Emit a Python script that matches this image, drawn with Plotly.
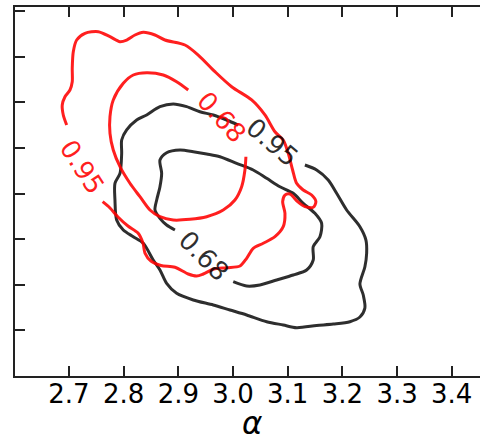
import plotly.graph_objects as go

# 95% / 68% credible contours for two samples, traced as (alpha, y) paths.
# Each open path leaves a gap where its inline level label sits.

red95_x = [2.6958, 2.6896, 2.6877, 2.6927, 2.7018, 2.7060, 2.7060, 2.7079, 2.7141, 2.7293,
           2.7536, 2.7750, 2.7933, 2.8055, 2.8207, 2.8359, 2.8573, 2.8755, 2.9121, 2.9364,
           2.9670, 2.9975, 3.0341, 3.0584, 3.0767, 3.0918, 3.1010, 3.1090, 3.1163, 3.1284,
           3.1438, 3.1516, 3.1467, 3.1315, 3.1182, 3.1041, 3.0950, 3.0908, 3.0950, 3.0918,
           3.0767, 3.0553, 3.0370, 3.0249, 3.0127, 2.9884, 2.9639, 2.9456, 2.9335, 2.9181,
           2.8938, 2.8682, 2.8499, 2.8390, 2.8353, 2.8262, 2.8079, 2.7896, 2.7750, 2.7616]
red95_y = [5.504, 5.724, 5.943, 6.125, 6.272, 6.454, 6.748, 7.112, 7.368, 7.515,
           7.550, 7.441, 7.331, 7.368, 7.478, 7.537, 7.478, 7.368, 7.259, 7.039,
           6.673, 6.344, 6.053, 5.724, 5.357, 5.175, 4.884, 4.518, 4.226, 4.079,
           3.969, 3.822, 3.700, 3.713, 3.822, 3.991, 3.969, 3.822, 3.568, 3.274,
           3.055, 2.910, 2.800, 2.581, 2.412, 2.375, 2.340, 2.237, 2.193, 2.237,
           2.384, 2.423, 2.522, 2.697, 2.917, 3.136, 3.289, 3.487, 3.684, 3.822]

red68_x = [2.9181, 2.8969, 2.8724, 2.8421, 2.8176, 2.7993, 2.7810, 2.7750, 2.7750, 2.7810,
           2.7933, 2.8115, 2.8298, 2.8481, 2.8664, 2.8907, 2.9212, 2.9518, 2.9821, 3.0035,
           3.0158, 3.0218, 3.0236]
red68_y = [6.272, 6.454, 6.601, 6.651, 6.601, 6.419, 6.053, 5.686, 5.322, 4.956,
           4.590, 4.226, 3.932, 3.640, 3.493, 3.421, 3.436, 3.493, 3.640, 3.860,
           4.151, 4.518, 4.809]

black95_x = [3.1315, 3.1529, 3.1741, 3.1895, 3.2078, 3.2321, 3.2431, 3.2444, 3.2412, 3.2321,
             3.2382, 3.2412, 3.2321, 3.2138, 3.1833, 3.1529, 3.1163, 3.0918, 3.0615, 3.0249,
             2.9944, 2.9639, 2.9273, 2.8969, 2.8786, 2.8664, 2.8541, 2.8359, 2.8176, 2.7993,
             2.7872, 2.7841, 2.7841, 2.7933, 2.7964, 2.7964, 2.8055, 2.8238, 2.8421, 2.8664,
             2.8907, 2.9152, 2.9395, 2.9639, 2.9884, 3.0096]
black95_y = [4.627, 4.518, 4.298, 4.007, 3.640, 3.274, 2.982, 2.691, 2.397, 2.018,
             1.776, 1.491, 1.294, 1.191, 1.140, 1.107, 1.059, 1.118, 1.191, 1.338,
             1.447, 1.557, 1.667, 1.814, 2.033, 2.325, 2.544, 2.910, 3.055, 3.202,
             3.421, 3.860, 4.226, 4.445, 4.884, 5.175, 5.395, 5.614, 5.724, 5.906,
             5.965, 5.906, 5.796, 5.724, 5.614, 5.504]

black68_x = [3.0004, 3.0249, 3.0492, 3.0798, 3.1101, 3.1346, 3.1467, 3.1467, 3.1590, 3.1621,
             3.1498, 3.1284, 3.1101, 3.0858, 3.0615, 3.0370, 3.0066, 2.9761, 2.9518, 2.9273,
             2.9030, 2.8786, 2.8664, 2.8695, 2.8664, 2.8604, 2.8573, 2.8664, 2.8786, 2.8938]
black68_y = [2.068, 1.974, 1.996, 2.105, 2.215, 2.325, 2.544, 2.836, 3.055, 3.349,
             3.568, 3.787, 4.007, 4.151, 4.336, 4.518, 4.664, 4.809, 4.868, 4.919,
             4.956, 4.897, 4.737, 4.445, 4.151, 3.860, 3.640, 3.458, 3.311, 3.202]

# Inline level labels: text, position, rotation (deg, clockwise), colour group
label_text = ["0.95", "0.68", "0.95", "0.68"]
label_x = [2.7238, 2.9792, 3.0706, 2.9472]
label_y = [4.583, 5.686, 5.121, 2.636]
label_angle = [57, 48, 40, 45]
label_group = ["red", "red", "black", "black"]

x_ticks = [2.7, 2.8, 2.9, 3.0, 3.1, 3.2, 3.3, 3.4]
y_ticks = [0, 1, 2, 3, 4, 5, 6, 7, 8]

RED = "rgba(255,0,0,0.88)"
BLACK = "rgba(0,0,0,0.82)"
colours = {"red": RED, "black": BLACK}

fig = go.Figure()
for xs, ys, col in [(black95_x, black95_y, BLACK), (black68_x, black68_y, BLACK),
                    (red95_x, red95_y, RED), (red68_x, red68_y, RED)]:
    fig.add_trace(go.Scatter(x=xs, y=ys, mode="lines",
                             line=dict(color=col, width=3, shape="spline", smoothing=0.8),
                             hoverinfo="skip", showlegend=False))

for t, lx, ly, ang, grp in zip(label_text, label_x, label_y, label_angle, label_group):
    fig.add_annotation(x=lx, y=ly, text=t, textangle=ang, showarrow=False,
                       xanchor="center", yanchor="middle",
                       font=dict(family="DejaVu Sans", size=26, color=colours[grp]))

fig.add_annotation(xref="paper", yref="paper", x=0.51, y=-0.128, text="<i>α</i>",
                   showarrow=False, xanchor="center", yanchor="middle",
                   font=dict(family="DejaVu Sans", size=31, color="black"))

fig.update_xaxes(range=[2.6013, 3.4517], tickvals=x_ticks, ticktext=[f"{v:.1f}" for v in x_ticks],
                 ticks="inside", ticklen=10, tickwidth=1.5, tickcolor="#222",
                 ticklabelstandoff=-6,
                 showline=True, linecolor="#222", linewidth=1.6, mirror="ticks",
                 showgrid=False, zeroline=False,
                 tickfont=dict(family="DejaVu Sans", size=26, color="black"))
fig.update_yaxes(range=[0, 8.092], tickvals=y_ticks, showticklabels=False,
                 ticks="inside", ticklen=10, tickwidth=1.5, tickcolor="#222",
                 showline=True, linecolor="#222", linewidth=1.6,
                 showgrid=False, zeroline=False)

fig.update_layout(width=480, height=443, margin=dict(l=15, r=0, t=7, b=67),
                  plot_bgcolor="white", paper_bgcolor="white")

fig.write_html("out.html")
